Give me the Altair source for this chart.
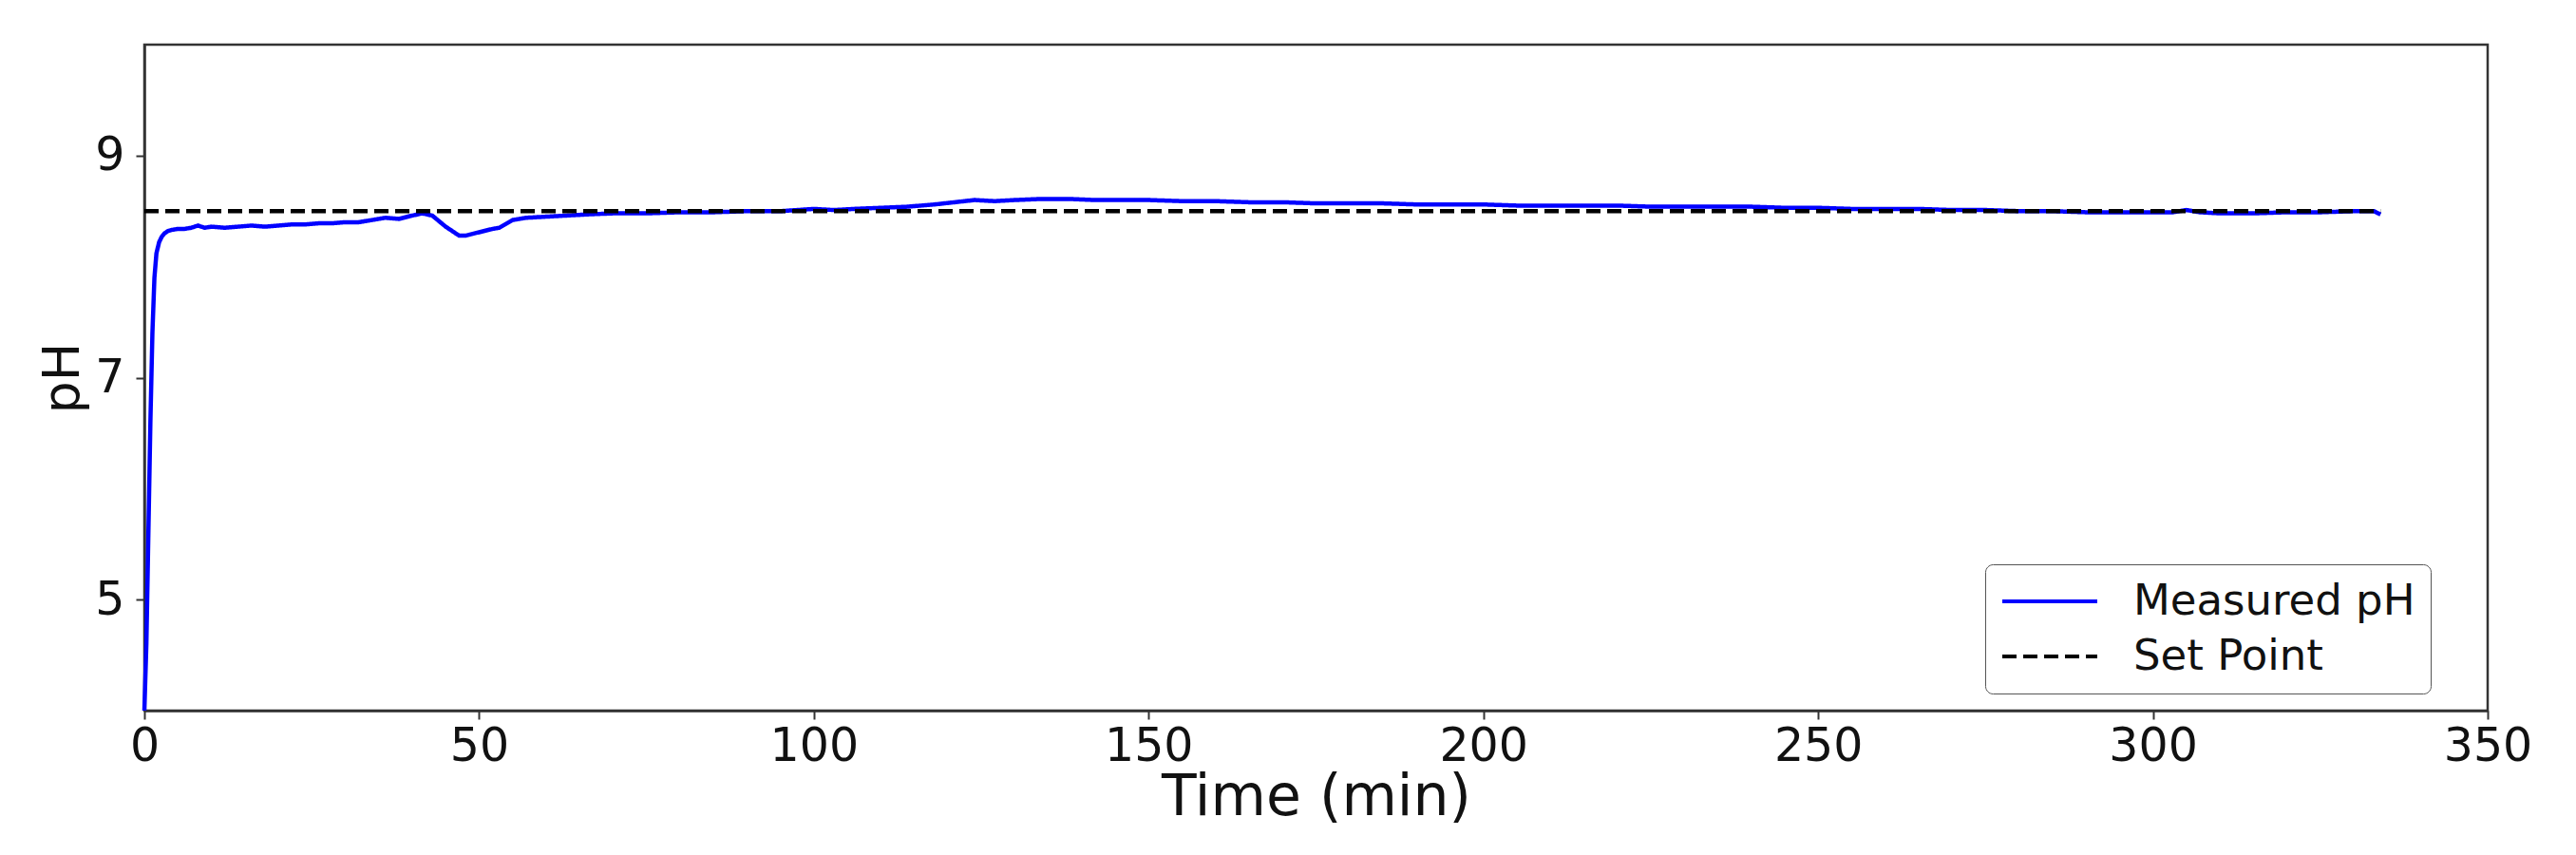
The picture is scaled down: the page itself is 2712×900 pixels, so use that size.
import altair as alt
import pandas as pd

# ---- data ----
time_min = [0, 0.3, 0.6, 0.9, 1.2, 1.5, 1.8, 2.2, 2.6, 3.0, 3.5, 4, 5, 6, 7, 8, 9, 10,
            12, 14, 16, 18, 20, 22, 24, 26, 28, 30, 32, 34, 36, 38, 40, 41.5, 43, 45,
            47, 48, 50, 52, 53, 55, 57, 60, 63, 66, 70, 75, 80, 85, 90, 95, 100, 103,
            106, 110, 114, 118, 121, 124, 127, 130, 134, 138, 142, 146, 150, 155, 160,
            165, 170, 175, 180, 185, 190, 195, 200, 205, 210, 215, 220, 225, 230, 235,
            240, 245, 250, 255, 260, 265, 270, 275, 280, 285, 290, 295, 300, 303, 305,
            307, 310, 315, 320, 325, 330, 333, 334]
measured_ph = [4.00, 4.60, 5.60, 6.60, 7.40, 7.90, 8.12, 8.22, 8.27, 8.30, 8.32, 8.33,
               8.34, 8.34, 8.35, 8.37, 8.35, 8.36, 8.35, 8.36, 8.37, 8.36, 8.37, 8.38,
               8.38, 8.39, 8.39, 8.40, 8.40, 8.42, 8.44, 8.43, 8.46, 8.48, 8.46, 8.36,
               8.28, 8.28, 8.31, 8.34, 8.35, 8.42, 8.44, 8.45, 8.46, 8.47, 8.48, 8.48,
               8.49, 8.49, 8.50, 8.50, 8.52, 8.51, 8.52, 8.53, 8.54, 8.56, 8.58, 8.60,
               8.59, 8.60, 8.61, 8.61, 8.60, 8.60, 8.60, 8.59, 8.59, 8.58, 8.58, 8.57,
               8.57, 8.57, 8.56, 8.56, 8.56, 8.55, 8.55, 8.55, 8.55, 8.54, 8.54, 8.54,
               8.54, 8.53, 8.53, 8.52, 8.52, 8.52, 8.51, 8.51, 8.50, 8.50, 8.49, 8.49,
               8.49, 8.49, 8.51, 8.49, 8.48, 8.48, 8.49, 8.49, 8.50, 8.50, 8.47]
set_point_time = [0, 334]
set_point_ph = [8.5, 8.5]

series_names = ["Measured pH", "Set Point"]
x_ticks = [0, 50, 100, 150, 200, 250, 300, 350]
y_ticks = [5, 7, 9]

df = pd.concat([
    pd.DataFrame({"t": time_min, "ph": measured_ph, "series": series_names[0]}),
    pd.DataFrame({"t": set_point_time, "ph": set_point_ph, "series": series_names[1]}),
], ignore_index=True)

FONT = "DejaVu Sans"

chart = alt.Chart(df).mark_line(strokeWidth=4.5).encode(
    x=alt.X("t:Q", title="Time (min)",
            scale=alt.Scale(domain=[0, 350], nice=False, zero=False),
            axis=alt.Axis(values=x_ticks, grid=False, labelFontSize=49, titleFontSize=60,
                          labelPadding=4, titlePadding=0, tickSize=9, tickWidth=2,
                          labelFlush=False)),
    y=alt.Y("ph:Q", title="pH",
            scale=alt.Scale(domain=[4, 10], nice=False, zero=False),
            axis=alt.Axis(values=y_ticks, grid=False, labelFontSize=49, titleFontSize=54,
                          labelPadding=12, titlePadding=6, tickSize=9, tickWidth=2,
                          labelFlush=False)),
    color=alt.Color("series:N",
                    scale=alt.Scale(domain=series_names, range=["#0000ff", "#000000"]),
                    legend=alt.Legend(title=None, orient="none", legendX=1938, legendY=547,
                                      symbolType="stroke", symbolSize=10000,
                                      symbolStrokeWidth=4, labelFontSize=45,
                                      labelOffset=36, labelLimit=500, padding=16,
                                      rowPadding=12, clipHeight=46, fillColor="white",
                                      strokeColor="#555555", cornerRadius=8)),
    strokeDash=alt.StrokeDash("series:N",
                              scale=alt.Scale(domain=series_names, range=[[1, 0], [15, 7]]),
                              legend=alt.Legend(title=None, orient="none", legendX=1938,
                                                legendY=547)),
    order=alt.Order("t:Q"),
).properties(
    width=2467, height=701,
    autosize=alt.AutoSizeParams(type="none"),
    padding={"left": 144, "top": 39, "right": 80, "bottom": 140},
).configure_view(
    stroke="#333333", strokeWidth=2.5,
).configure_axis(
    labelFont=FONT, titleFont=FONT, labelColor="#111111", titleColor="#111111",
    domainColor="#333333", domainWidth=2.5, tickColor="#333333", titleFontWeight="normal",
).configure_legend(
    labelFont=FONT, labelColor="#111111",
)

chart.save("out.html", embed_options={"renderer": "svg", "actions": False})
